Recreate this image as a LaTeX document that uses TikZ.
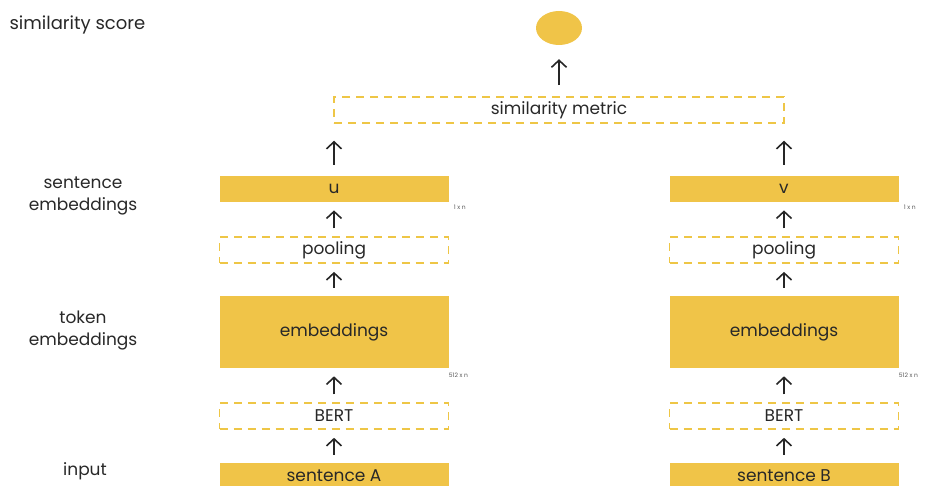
\documentclass[tikz,border=0pt]{standalone}
\usepackage{fontspec}
\setmainfont{Poppins}
\usepackage{tikz}
\usetikzlibrary{arrows.meta, positioning, shapes.geometric}

\definecolor{sbgold}{RGB}{240,196,72}
\definecolor{sbdash}{RGB}{238,198,70}
\definecolor{sbtext}{RGB}{40,40,40}

\begin{document}
\begin{tikzpicture}[
        x=1pt, y=-1pt,
        node distance=33pt,
        every node/.style={text=sbtext},
        solid box/.style={
            rectangle,
            fill=sbgold,
            inner sep=0pt,
            minimum width=229pt,
            minimum height=26pt,
            font=\fontsize{17}{20}\selectfont
        },
        dash box/.style={
            rectangle,
            draw=sbdash,
            line width=1.5pt,
            dash pattern=on 8pt off 6pt,
            inner sep=0pt,
            minimum width=229pt,
            minimum height=26pt,
            font=\fontsize{17}{20}\selectfont
        },
        side/.style={
            align=center,
            font=\fontsize{17}{22}\selectfont
        },
        dim/.style={
            font=\fontsize{6}{7}\selectfont,
            text=black!65,
            inner sep=0pt
        },
        arrow/.style={
            -{Straight Barb[length=7pt,width=15pt,line width=1.6pt]},
            line width=1.6pt,
            black!85,
            shorten <=8pt,
            shorten >=8pt
        }
    ]
    \useasboundingbox (0,0) rectangle (934,486);

    % left tower
    \node[solid box] (sentA) at (334,476) {sentence A};
    \node[dash box, above=of sentA] (bertA) {BERT};
    \node[solid box, minimum height=72pt, above=34pt of bertA] (embA) {embeddings};
    \node[dash box, above=32pt of embA] (poolA) {pooling};
    \node[solid box, above=34pt of poolA] (uA) {u};

    % right tower
    \node[solid box] (sentB) at (784,476) {sentence B};
    \node[dash box, above=of sentB] (bertB) {BERT};
    \node[solid box, minimum height=72pt, above=34pt of bertB] (embB) {embeddings};
    \node[dash box, above=32pt of embB] (poolB) {pooling};
    \node[solid box, above=34pt of poolB] (vB) {v};

    % sizes
    \node[dim, anchor=north west] at ([shift={(5,3)}]uA.south east) {1 x n};
    \node[dim, anchor=north west] at ([shift={(5,3)}]vB.south east) {1 x n};
    \node[dim, anchor=north west] at ([shift={(0,5)}]embA.south east) {512 x n};
    \node[dim, anchor=north west] at ([shift={(0,5)}]embB.south east) {512 x n};

    % top
    \node[dash box, minimum width=450pt] (metric) at (559,110) {similarity metric};
    \node[ellipse, fill=sbgold, minimum width=46pt, minimum height=34pt, inner sep=0pt] (score) at (559,28) {};

    % row labels
    \node[side, anchor=west, font=\fontsize{18}{20}\selectfont] (scorelbl) at (6,25) {similarity score};
    \node[side] (sentlbl) at (83,196) {sentence\\embeddings};
    \node[side] (toklbl) at (83,331) {token\\embeddings};
    \node[side] (inlbl) at (85,471) {input};

    \draw[arrow] (sentA) -- (bertA);
    \draw[arrow] (bertA) -- (embA);
    \draw[arrow] (embA) -- (poolA);
    \draw[arrow] (poolA) -- (uA);
    \draw[arrow] (sentB) -- (bertB);
    \draw[arrow] (bertB) -- (embB);
    \draw[arrow] (embB) -- (poolB);
    \draw[arrow] (poolB) -- (vB);
    \draw[arrow, shorten <=11pt, shorten >=17pt] (uA) -- (uA |- metric.south);
    \draw[arrow, shorten <=11pt, shorten >=17pt] (vB) -- (vB |- metric.south);
    \draw[arrow, shorten <=11pt, shorten >=14pt] (metric) -- (score);
\end{tikzpicture}
\end{document}
